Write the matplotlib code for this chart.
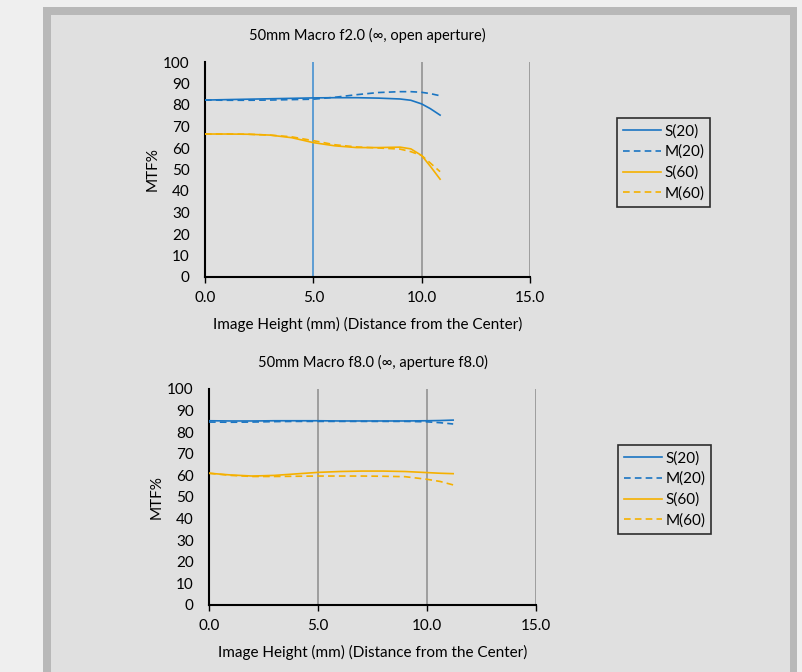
import numpy as np
import matplotlib
matplotlib.use("Agg")
import matplotlib.pyplot as plt
from matplotlib.patches import Rectangle

plt.rcParams['font.family'] = ['Lato', 'DejaVu Sans']

BLUE = "#1a75c2"
ORANGE = "#f5b000"
GRID = "#8c8c8c"

# chart 1: f2.0, open aperture
x_open = [0, 1, 2, 3, 4, 5, 6, 7, 8, 9, 9.5, 10, 10.4, 10.85]
s20_open = [82.3, 82.5, 82.7, 82.9, 83.1, 83.3, 83.4, 83.4, 83.2, 82.8, 82.2, 80.5, 78.3, 75.3]
m20_open = [82.3, 82.2, 82.2, 82.3, 82.5, 82.7, 83.6, 84.8, 85.8, 86.2, 86.2, 85.9, 85.3, 84.3]
s60_open = [66.5, 66.5, 66.4, 66.0, 64.8, 62.5, 61.0, 60.2, 60.2, 60.4, 59.6, 56.5, 51.5, 45.5]
m60_open = [66.5, 66.5, 66.4, 66.0, 65.2, 63.4, 61.5, 60.5, 60.0, 59.5, 58.3, 56.5, 53.0, 49.0]

# chart 2: f8.0
x_f8 = [0, 1, 2, 3, 4, 5, 6, 7, 8, 9, 10, 10.6, 11.2]
s20_f8 = [85.3, 85.2, 85.2, 85.3, 85.3, 85.3, 85.2, 85.2, 85.2, 85.2, 85.3, 85.4, 85.6]
m20_f8 = [84.7, 84.6, 84.7, 84.9, 85.0, 85.0, 85.0, 85.0, 85.0, 85.0, 84.8, 84.4, 83.8]
s60_f8 = [61.0, 60.2, 59.7, 60.0, 60.7, 61.4, 61.8, 62.0, 62.0, 61.8, 61.3, 61.0, 60.8]
m60_f8 = [61.0, 60.0, 59.5, 59.5, 59.6, 59.7, 59.7, 59.7, 59.6, 59.4, 58.2, 57.2, 55.6]

labels = ["S(20)", "M(20)", "S(60)", "M(60)"]
x_ticks = [0, 5, 10, 15]
y_ticks = list(range(0, 101, 10))

W, H = 803, 672
fig = plt.figure(figsize=(W / 100, H / 100), dpi=100)
fig.patch.set_facecolor("#efefef")
fig.patches.append(Rectangle((43 / W, 0), (797 - 43) / W, (H - 7) / H,
                             transform=fig.transFigure, facecolor="#b8b8b8", edgecolor="none", zorder=-2))
fig.patches.append(Rectangle((51 / W, 0), (790 - 51) / W, (H - 15) / H,
                             transform=fig.transFigure, facecolor="#e0e0e0", edgecolor="none", zorder=-1))


def mtf_chart(rect, title, xs, series, grid_colors, legend_at):
    ax = fig.add_axes(rect)
    ax.set_facecolor("none")
    for gx, gc in zip(x_ticks[1:], grid_colors):
        ax.axvline(gx, color=gc, lw=1.1, zorder=1)
    styles = [(BLUE, "-"), (BLUE, "--"), (ORANGE, "-"), (ORANGE, "--")]
    handles = []
    for ys, (c, ls), lab in zip(series, styles, labels):
        ln, = ax.plot(xs, ys, color=c, lw=1.2, ls=ls, label=lab, zorder=3)
        if ls == "--":
            ln.set_dashes((4, 2.5))
        handles.append(ln)
    ax.set_xlim(0, 15)
    ax.set_ylim(0, 100)
    ax.set_xticks(x_ticks)
    ax.set_xticklabels([f"{v:.1f}" for v in x_ticks])
    ax.set_yticks(y_ticks)
    for s in ["top", "right"]:
        ax.spines[s].set_visible(False)
    for s in ["left", "bottom"]:
        ax.spines[s].set_color("black")
        ax.spines[s].set_linewidth(1.5)
    ax.tick_params(axis="x", length=4, width=1, pad=6, labelsize=11)
    ax.tick_params(axis="y", length=0, pad=11, labelsize=11)
    ax.set_title(title, fontsize=10.5, pad=16)
    ax.set_ylabel("MTF%", fontsize=11)
    ax.yaxis.set_label_coords(-0.14, 0.5)
    ax.set_xlabel("Image Height (mm) (Distance from the Center)", fontsize=11, labelpad=9)
    leg = fig.legend(handles=handles, loc="upper left", bbox_to_anchor=legend_at,
                     bbox_transform=fig.transFigure, frameon=True, fancybox=False,
                     fontsize=11, handlelength=2.5, handletextpad=0.2, labelspacing=0.42,
                     borderpad=0.4, borderaxespad=0)
    leg.get_frame().set_edgecolor("black")
    leg.get_frame().set_facecolor("#e0e0e0")
    leg.get_frame().set_linewidth(1.2)
    return ax


mtf_chart([205 / W, 1 - 277 / H, 325 / W, 215 / H],
          "50mm Macro f2.0 (\u221e, open aperture)", x_open,
          [s20_open, m20_open, s60_open, m60_open],
          ["#3a8ad0", GRID, GRID], (617 / W, 1 - 118 / H))

mtf_chart([209 / W, 1 - 605 / H, 327 / W, 216 / H],
          "50mm Macro f8.0 (\u221e, aperture f8.0)", x_f8,
          [s20_f8, m20_f8, s60_f8, m60_f8],
          [GRID, GRID, GRID], (618 / W, 1 - 445 / H))

fig.savefig("out.png", dpi=100, facecolor=fig.get_facecolor())
